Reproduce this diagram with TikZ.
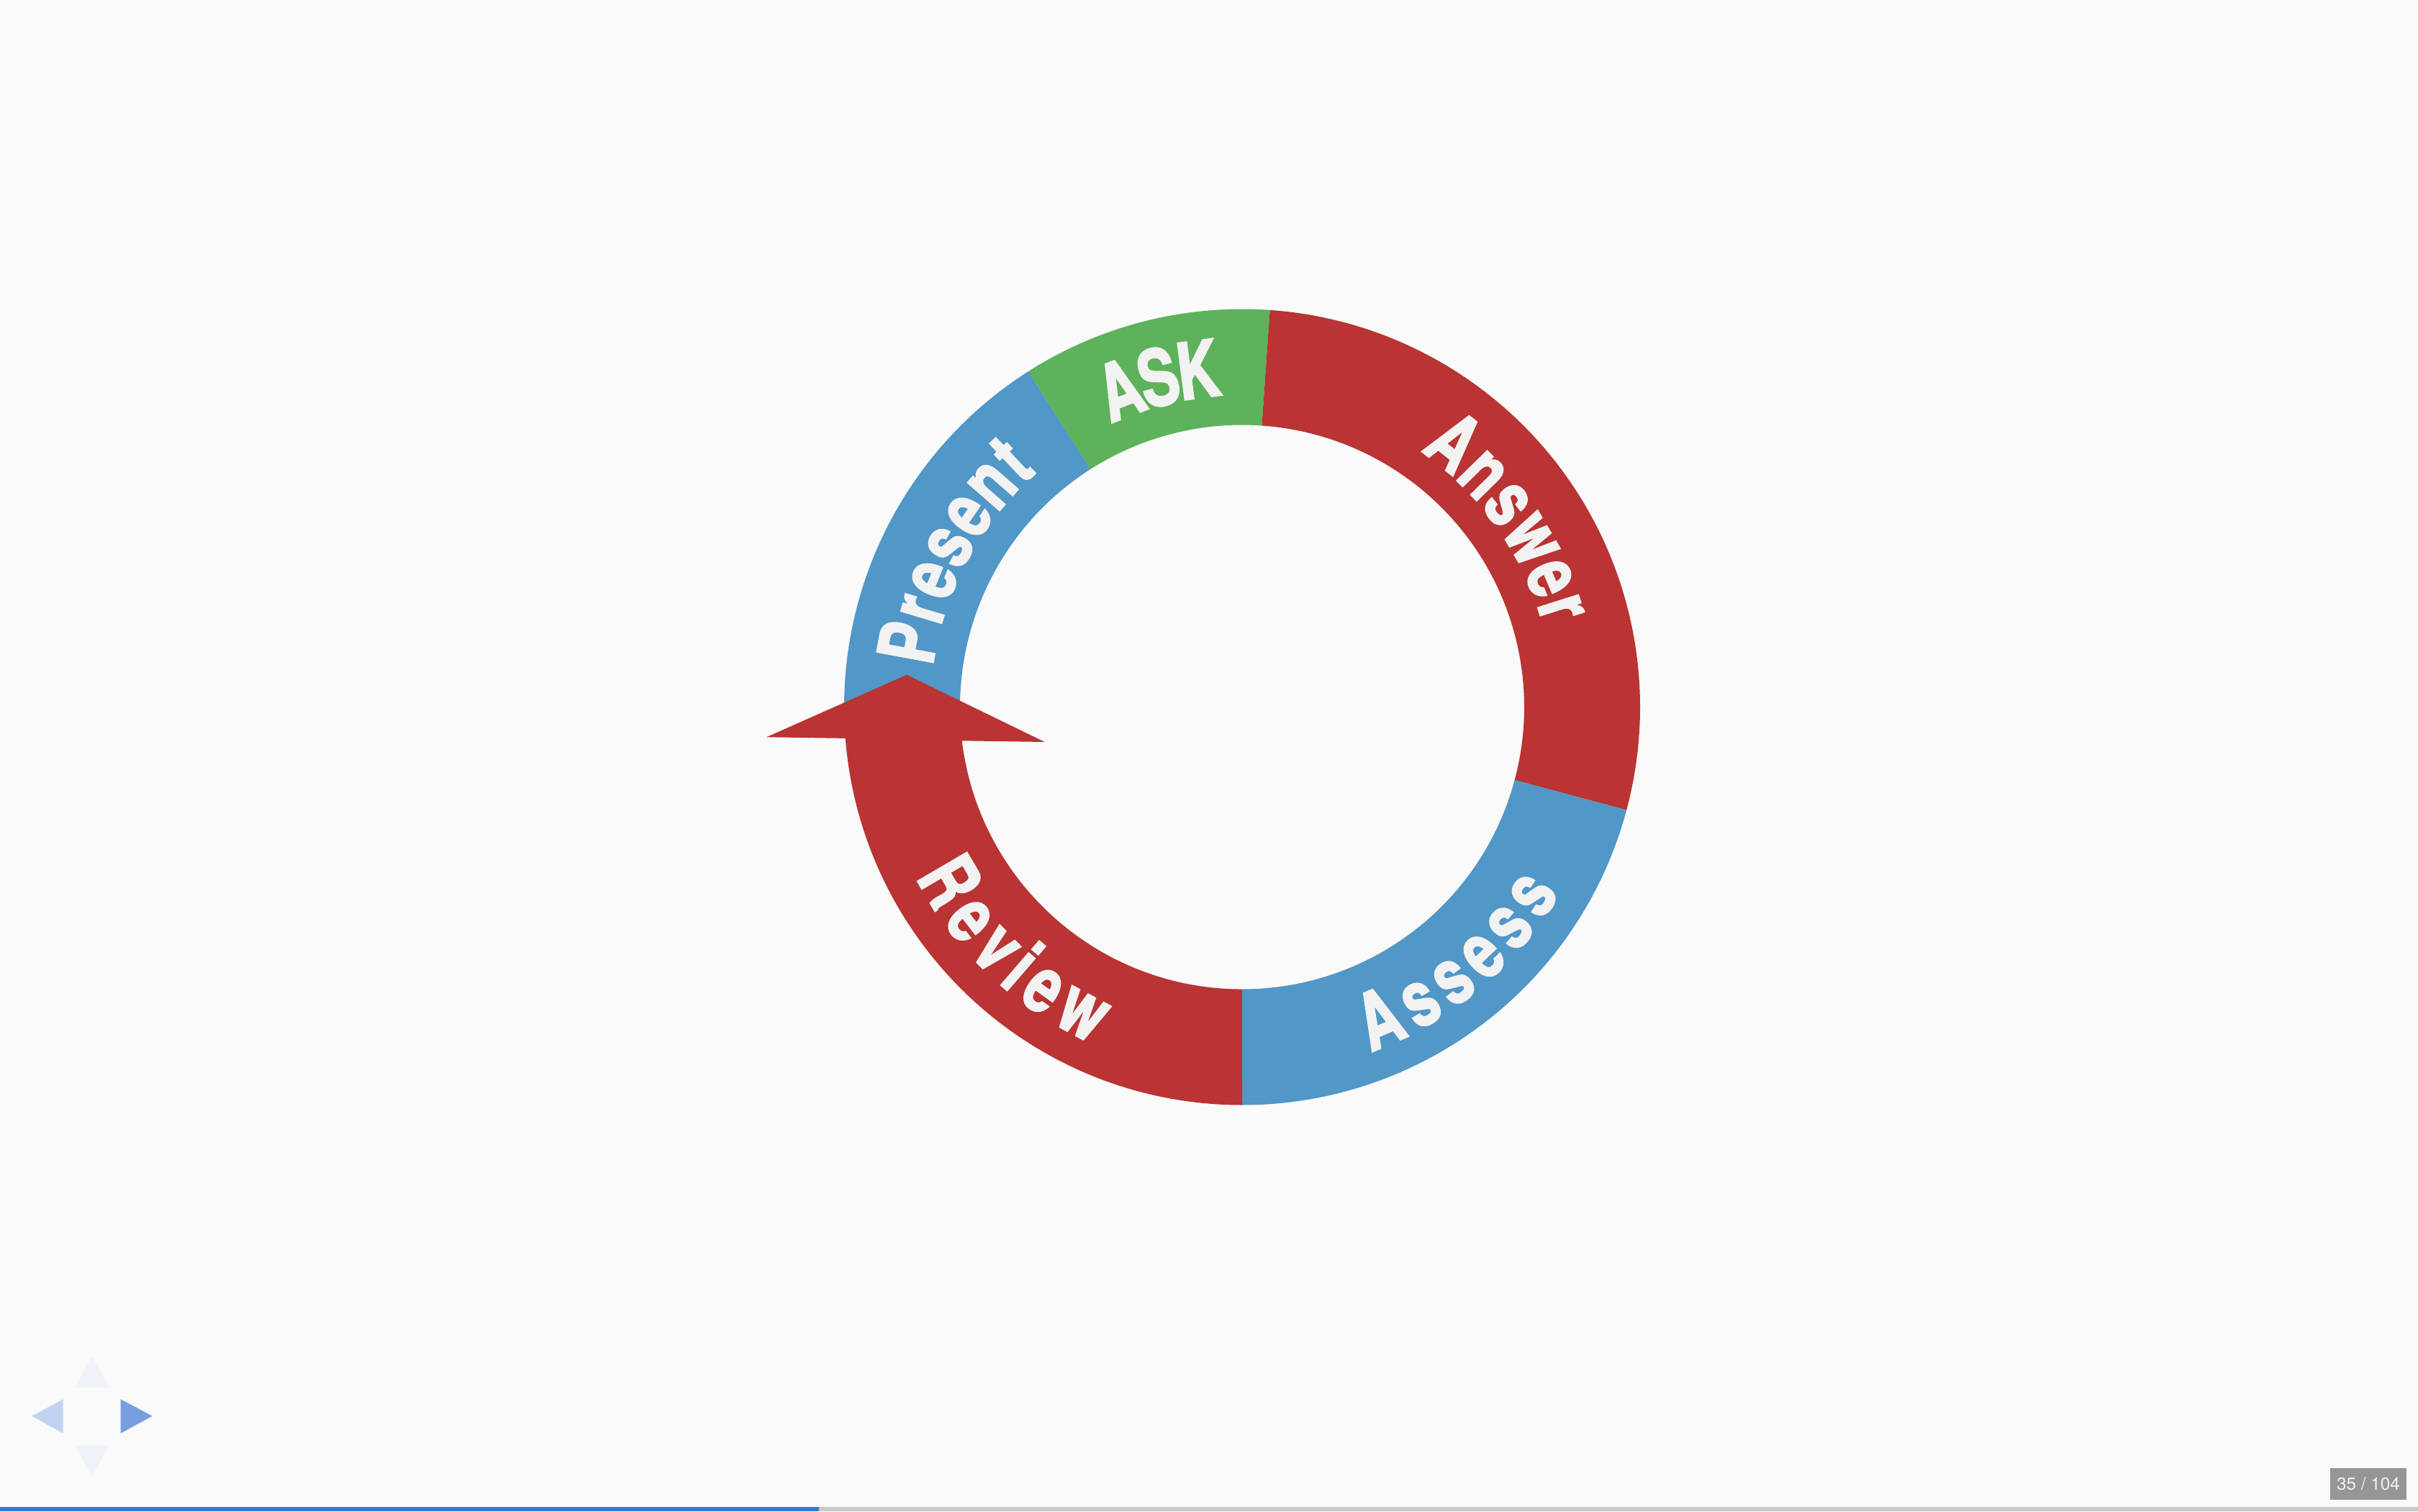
\documentclass[tikz,border=0pt]{standalone}
\usepackage{fontspec}
\setmainfont{TeX Gyre Heros}
\newfontfamily\ringfont{texgyreheros-bold.otf}[FakeStretch=0.74, FakeBold=2]
\usetikzlibrary{decorations.text}

\definecolor{bgwhite}{HTML}{FAFAFA}
\definecolor{ringred}{HTML}{B93433}
\definecolor{ringblue}{HTML}{5197C8}
\definecolor{ringgreen}{HTML}{5DB25B}
\definecolor{labelwhite}{HTML}{F2F2F2}
\definecolor{navlight}{HTML}{F0F4FA}
\definecolor{navmid}{HTML}{C2D3F0}
\definecolor{navdark}{HTML}{779EE0}
\definecolor{barblue}{HTML}{3F77D0}
\definecolor{bargray}{HTML}{C8C8C8}
\definecolor{countgray}{HTML}{969696}

\begin{document}
\begin{tikzpicture}[
    ringlabel/.style 2 args={decorate, decoration={text along path, text align=center,
        raise=-0.39cm, text color=labelwhite,
        text={|\ringfont\fontsize{31}{31}\selectfont\kern#2|#1}}}
]

    % Slide background
    \fill[bgwhite] (0,0) rectangle (33.6,21);
    \useasboundingbox (0,0) rectangle (33.6,21);

    % The cycle ring
    \begin{scope}[shift={(17.26,11.175)}]

        % Present
        \fill[ringblue] (182:5.53) arc[start angle=182, end angle=122.5, radius=5.53]
            -- (122.5:3.92) arc[start angle=122.5, end angle=182, radius=3.92] -- cycle;
        % Ask
        \fill[ringgreen] (122.5:5.53) arc[start angle=122.5, end angle=86, radius=5.53]
            -- (86:3.92) arc[start angle=86, end angle=122.5, radius=3.92] -- cycle;
        % Answer
        \fill[ringred] (86:5.53) arc[start angle=86, end angle=-15, radius=5.53]
            -- (-15:3.92) arc[start angle=-15, end angle=86, radius=3.92] -- cycle;
        % Assess
        \fill[ringblue] (-15:5.53) arc[start angle=-15, end angle=-90, radius=5.53]
            -- (-90:3.92) arc[start angle=-90, end angle=-15, radius=3.92] -- cycle;
        % Review, ending in the arrow head
        \fill[ringred] (-90:5.53) arc[start angle=-90, end angle=-175.5, radius=5.53]
            -- (-6.61,-0.418) -- (-4.66,0.448) -- (-2.743,-0.485)
            -- (-3.893,-0.468) arc[start angle=-173.15, end angle=-90, radius=3.92] -- cycle;

        % Labels along the ring
        \path[ringlabel={Present}{2pt}] (182:4.725) arc[start angle=182, end angle=122.5, radius=4.725];
        \path[ringlabel={ASK}{0pt}] (122.5:4.725) arc[start angle=122.5, end angle=86, radius=4.725];
        \path[ringlabel={Answer}{2pt}] (86:4.725) arc[start angle=86, end angle=-15, radius=4.725];
        \path[ringlabel={Assess}{2.5pt}] (-86:4.725) arc[start angle=-86, end angle=-15, radius=4.725];
        \path[ringlabel={Review}{2.5pt}] (182.5:4.725) arc[start angle=182.5, end angle=270, radius=4.725];
    \end{scope}

    % Navigation controls
    \fill[navlight] (1.277,2.157) -- (1.043,1.723) -- (1.517,1.723) -- cycle;
    \fill[navlight] (1.277,0.483) -- (1.043,0.917) -- (1.517,0.917) -- cycle;
    \fill[navmid] (0.443,1.323) -- (0.877,1.557) -- (0.877,1.083) -- cycle;
    \fill[navdark] (2.117,1.323) -- (1.677,1.557) -- (1.677,1.083) -- cycle;

    % Slide number
    \node[fill=countgray, text=labelwhite, minimum width=1.06cm, minimum height=0.44cm,
        inner sep=0pt, font=\fontsize{6.9}{7}\selectfont] (pagecount) at (32.91,0.38) {35 / 104};

    % Progress bar
    \fill[barblue] (0,0) rectangle (11.38,0.06);
    \fill[bargray] (11.38,0) rectangle (33.6,0.06);

\end{tikzpicture}
\end{document}
